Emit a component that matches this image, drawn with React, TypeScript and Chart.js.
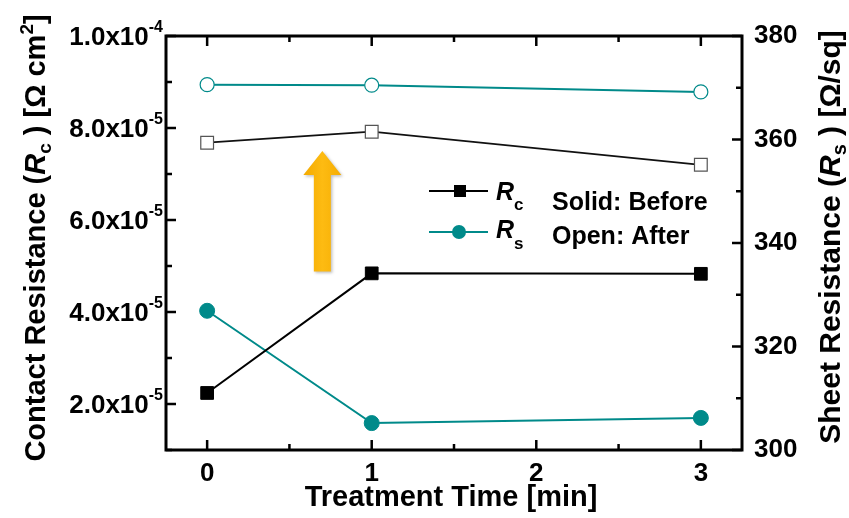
import React, { useEffect, useRef } from 'react';
import { Chart, registerables } from 'chart.js';

Chart.register(...registerables);

// ---- data ----
const timeMin = [0, 1, 3];
const rcBefore = [2.24e-5, 4.84e-5, 4.83e-5];
const rcAfter = [7.68e-5, 7.92e-5, 7.2e-5];
const rsBefore = [326.9, 305.2, 306.2];
const rsAfter = [370.6, 370.5, 369.2];

const xTicks = [0, 1, 2, 3];
const xMinorTicks = [0.5, 1.5, 2.5];
const leftTicks = [2e-5, 4e-5, 6e-5, 8e-5, 1e-4];
const leftTickMantissa = ['2.0x10', '4.0x10', '6.0x10', '8.0x10', '1.0x10'];
const leftTickExponent = ['-5', '-5', '-5', '-5', '-4'];
const leftMinorTicks = [1e-5, 3e-5, 5e-5, 7e-5, 9e-5];
const rightTicks = [300, 320, 340, 360, 380];
const rightMinorTicks = [310, 330, 350, 370];

const TEAL = '#008a8a';
const FONT = "'Liberation Sans', Arial, sans-serif";

type Run = { t: string; f: string; dy?: number };

function drawRuns(ctx: CanvasRenderingContext2D, runs: Run[], x: number, y: number, align: 'left' | 'center' | 'right') {
  let total = 0;
  const widths = runs.map((r) => {
    ctx.font = r.f;
    const w = ctx.measureText(r.t).width;
    total += w;
    return w;
  });
  let cx = align === 'left' ? x : align === 'center' ? x - total / 2 : x - total;
  ctx.textAlign = 'left';
  ctx.textBaseline = 'alphabetic';
  runs.forEach((r, i) => {
    ctx.font = r.f;
    ctx.fillText(r.t, cx, y + (r.dy || 0));
    cx += widths[i];
  });
}

const decorPlugin = {
  id: 'decor',
  afterDraw(chart: any) {
    const ctx: CanvasRenderingContext2D = chart.ctx;
    const { left, right, top, bottom } = chart.chartArea;
    const xs = chart.scales.x;
    const ys = chart.scales.y;
    const ys2 = chart.scales.y2;
    ctx.save();
    ctx.fillStyle = '#000';
    ctx.strokeStyle = '#000';

    // arrow
    const ax = xs.getPixelForValue(0.7);
    const aTop = ys.getPixelForValue(7.5e-5);
    const aBot = ys.getPixelForValue(4.88e-5);
    const headW = 19, headH = 24, shaftW = 8.5;
    ctx.save();
    ctx.shadowColor = 'rgba(0,0,0,0.25)';
    ctx.shadowBlur = 3;
    ctx.shadowOffsetX = 1.5;
    ctx.shadowOffsetY = 1.5;
    const g = ctx.createLinearGradient(ax - headW, 0, ax + headW, 0);
    g.addColorStop(0, '#f4aa00');
    g.addColorStop(0.5, '#fdbb12');
    g.addColorStop(1, '#f6ad02');
    ctx.fillStyle = g;
    ctx.beginPath();
    ctx.moveTo(ax, aTop);
    ctx.lineTo(ax + headW, aTop + headH);
    ctx.lineTo(ax + shaftW, aTop + headH);
    ctx.lineTo(ax + shaftW, aBot);
    ctx.lineTo(ax - shaftW, aBot);
    ctx.lineTo(ax - shaftW, aTop + headH);
    ctx.lineTo(ax - headW, aTop + headH);
    ctx.closePath();
    ctx.fill();
    ctx.restore();

    // frame
    ctx.lineWidth = 3;
    ctx.strokeRect(left, top, right - left, bottom - top);

    // ticks
    ctx.lineWidth = 2.5;
    const major = 10, minor = 6;
    ctx.beginPath();
    xTicks.forEach((v) => {
      const p = xs.getPixelForValue(v);
      ctx.moveTo(p, bottom); ctx.lineTo(p, bottom - major);
      ctx.moveTo(p, top); ctx.lineTo(p, top + major);
    });
    xMinorTicks.forEach((v) => {
      const p = xs.getPixelForValue(v);
      ctx.moveTo(p, bottom); ctx.lineTo(p, bottom - minor);
      ctx.moveTo(p, top); ctx.lineTo(p, top + minor);
    });
    leftTicks.forEach((v) => {
      const p = ys.getPixelForValue(v);
      ctx.moveTo(left, p); ctx.lineTo(left + major, p);
    });
    leftMinorTicks.forEach((v) => {
      const p = ys.getPixelForValue(v);
      ctx.moveTo(left, p); ctx.lineTo(left + minor, p);
    });
    rightTicks.forEach((v) => {
      const p = ys2.getPixelForValue(v);
      ctx.moveTo(right, p); ctx.lineTo(right - major, p);
    });
    rightMinorTicks.forEach((v) => {
      const p = ys2.getPixelForValue(v);
      ctx.moveTo(right, p); ctx.lineTo(right - minor, p);
    });
    ctx.stroke();

    // left tick labels with superscript
    const tickF = `bold 26px ${FONT}`;
    const supF = `bold 16px ${FONT}`;
    leftTicks.forEach((v, i) => {
      const p = ys.getPixelForValue(v);
      drawRuns(ctx, [
        { t: leftTickMantissa[i], f: tickF },
        { t: leftTickExponent[i], f: supF, dy: -13 },
      ], left - 3, p + 9, 'right');
    });

    const titleF = `bold 29px ${FONT}`;
    // left title
    ctx.save();
    ctx.translate(34, 238);
    ctx.rotate(-Math.PI / 2);
    drawRuns(ctx, [
      { t: 'Contact Resistance (', f: titleF },
      { t: 'R', f: `italic bold 29px ${FONT}` },
      { t: 'c', f: `bold 19px ${FONT}`, dy: 6 },
      { t: ' ) [Ω cm', f: titleF },
      { t: '2', f: `bold 19px ${FONT}`, dy: -12 },
      { t: ']', f: titleF },
    ], 0, 10.5, 'center');
    ctx.restore();

    // right title
    const rTitleF = `bold 30px ${FONT}`;
    ctx.save();
    ctx.translate(829, 237);
    ctx.rotate(-Math.PI / 2);
    drawRuns(ctx, [
      { t: 'Sheet Resistance (', f: rTitleF },
      { t: 'R', f: `italic bold 30px ${FONT}` },
      { t: 's', f: `bold 20px ${FONT}`, dy: 6 },
      { t: ' ) [Ω/sq]', f: rTitleF },
    ], 0, 10.5, 'center');
    ctx.restore();

    // bottom title
    drawRuns(ctx, [{ t: 'Treatment Time [min]', f: titleF }], 451, 506, 'center');

    // legend
    ctx.lineWidth = 2;
    ctx.strokeStyle = '#000';
    ctx.beginPath();
    ctx.moveTo(429, 191); ctx.lineTo(488, 191);
    ctx.stroke();
    ctx.fillStyle = '#000';
    ctx.fillRect(460 - 6, 191 - 6, 12, 12);
    ctx.strokeStyle = TEAL;
    ctx.beginPath();
    ctx.moveTo(429, 232); ctx.lineTo(488, 232);
    ctx.stroke();
    ctx.fillStyle = TEAL;
    ctx.beginPath();
    ctx.arc(459, 232, 7, 0, Math.PI * 2);
    ctx.fill();

    const legF = `bold 25px ${FONT}`;
    ctx.fillStyle = '#000';
    drawRuns(ctx, [
      { t: 'R', f: `italic bold 25px ${FONT}` },
      { t: 'c', f: `bold 17px ${FONT}`, dy: 10 },
    ], 496, 200, 'left');
    drawRuns(ctx, [
      { t: 'R', f: `italic bold 25px ${FONT}` },
      { t: 's', f: `bold 17px ${FONT}`, dy: 11 },
    ], 496, 238, 'left');
    drawRuns(ctx, [{ t: 'Solid: Before', f: legF }], 552, 210, 'left');
    drawRuns(ctx, [{ t: 'Open: After', f: legF }], 552, 244, 'left');

    ctx.restore();
  },
};

export default function App() {
  const ref = useRef<HTMLCanvasElement>(null);
  useEffect(() => {
    if (!ref.current) return;
    const pts = (ys: number[]) => timeMin.map((t, i) => ({ x: t, y: ys[i] }));
    const chart = new Chart(ref.current, {
      type: 'line',
      data: {
        datasets: [
          {
            label: 'Rc after',
            data: pts(rcAfter),
            yAxisID: 'y',
            borderColor: '#111',
            borderWidth: 1.8,
            pointStyle: 'rect',
            pointRadius: 9,
            pointBackgroundColor: '#fff',
            pointBorderColor: '#555',
            pointBorderWidth: 1.2,
          },
          {
            label: 'Rs after',
            data: pts(rsAfter),
            yAxisID: 'y2',
            borderColor: TEAL,
            borderWidth: 2,
            pointStyle: 'circle',
            pointRadius: 7,
            pointBackgroundColor: '#fff',
            pointBorderColor: TEAL,
            pointBorderWidth: 1.2,
          },
          {
            label: 'Rc before',
            data: pts(rcBefore),
            yAxisID: 'y',
            borderColor: '#000',
            borderWidth: 2,
            pointStyle: 'rect',
            pointRadius: 9,
            pointBackgroundColor: '#000',
            pointBorderColor: '#000',
            pointBorderWidth: 1,
          },
          {
            label: 'Rs before',
            data: pts(rsBefore),
            yAxisID: 'y2',
            borderColor: TEAL,
            borderWidth: 2,
            pointStyle: 'circle',
            pointRadius: 7.5,
            pointBackgroundColor: TEAL,
            pointBorderColor: TEAL,
            pointBorderWidth: 1,
          },
        ],
      },
      options: {
        animation: false,
        responsive: true,
        maintainAspectRatio: false,
        layout: { padding: { top: 36, left: 0, right: 0, bottom: 0 } },
        plugins: { legend: { display: false }, tooltip: { enabled: false } },
        scales: {
          x: {
            type: 'linear',
            min: -0.25,
            max: 3.25,
            grid: { display: false, drawTicks: false },
            border: { display: false },
            afterBuildTicks: (s: any) => { s.ticks = xTicks.map((v) => ({ value: v })); },
            afterFit: (s: any) => { s.height = 68; },
            ticks: { color: '#000', padding: 8, font: { family: FONT, size: 26, weight: 'bold' } },
          },
          y: {
            type: 'linear',
            position: 'left',
            min: 1e-5,
            max: 1e-4,
            grid: { display: false, drawTicks: false },
            border: { display: false },
            ticks: { display: false },
            afterFit: (s: any) => { s.width = 166; },
          },
          y2: {
            type: 'linear',
            position: 'right',
            min: 300,
            max: 380,
            grid: { display: false, drawTicks: false },
            border: { display: false },
            afterBuildTicks: (s: any) => { s.ticks = rightTicks.map((v) => ({ value: v })); },
            afterFit: (s: any) => { s.width = 107; },
            ticks: { color: '#000', padding: 12, font: { family: FONT, size: 26, weight: 'bold' } },
          },
        },
      } as any,
      plugins: [decorPlugin],
    });
    return () => chart.destroy();
  }, []);
  return (
    <div style={{ position: 'fixed', left: 0, top: 0, width: 849, height: 518, background: '#fff' }}>
      <canvas ref={ref} />
    </div>
  );
}
